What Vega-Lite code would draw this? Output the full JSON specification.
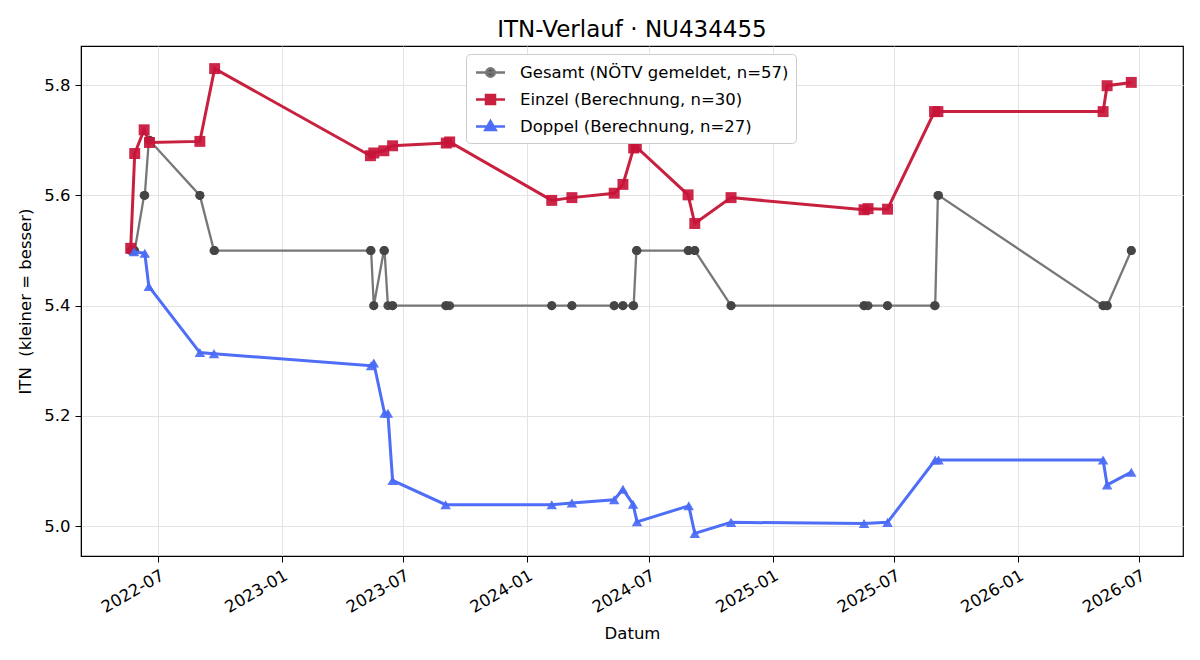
{
  "$schema": "https://vega.github.io/schema/vega-lite/v6.json",
  "width": 1102,
  "height": 510,
  "autosize": {"type": "none"},
  "padding": {"left": 81, "top": 46, "right": 17, "bottom": 104},
  "background": "white",
  "title": {"text": "ITN-Verlauf · NU434455", "fontSize": 23, "font": "DejaVu Sans", "fontWeight": "normal", "color": "black", "anchor": "middle", "frame": "group", "baseline": "alphabetic", "offset": -14},
  "config": {
    "font": "DejaVu Sans",
    "view": {"stroke": "black", "strokeWidth": 1.2},
    "axis": {"labelFont": "DejaVu Sans", "labelFontSize": 16.5, "labelColor": "black", "titleFont": "DejaVu Sans", "titleFontSize": 16.5, "titleFontWeight": "normal", "titleColor": "black", "tickColor": "black", "tickSize": 6, "domainColor": "black", "gridColor": "#e3e3e3", "gridWidth": 1, "labelPadding": 5}
  },
  "data": {"values": [
    {"d": "2022-05-21", "v": 5.5, "s": "G"},
    {"d": "2022-05-26", "v": 5.5, "s": "G"},
    {"d": "2022-05-27", "v": 5.5, "s": "G"},
    {"d": "2022-06-10", "v": 5.6, "s": "G"},
    {"d": "2022-06-11", "v": 5.6, "s": "G"},
    {"d": "2022-06-17", "v": 5.7, "s": "G"},
    {"d": "2022-06-18", "v": 5.7, "s": "G"},
    {"d": "2022-09-01", "v": 5.6, "s": "G"},
    {"d": "2022-09-01", "v": 5.6, "s": "G"},
    {"d": "2022-09-22", "v": 5.5, "s": "G"},
    {"d": "2022-09-23", "v": 5.5, "s": "G"},
    {"d": "2023-05-13", "v": 5.5, "s": "G"},
    {"d": "2023-05-14", "v": 5.5, "s": "G"},
    {"d": "2023-05-18", "v": 5.4, "s": "G"},
    {"d": "2023-05-18", "v": 5.4, "s": "G"},
    {"d": "2023-06-02", "v": 5.5, "s": "G"},
    {"d": "2023-06-03", "v": 5.5, "s": "G"},
    {"d": "2023-06-08", "v": 5.4, "s": "G"},
    {"d": "2023-06-15", "v": 5.4, "s": "G"},
    {"d": "2023-06-15", "v": 5.4, "s": "G"},
    {"d": "2023-09-02", "v": 5.4, "s": "G"},
    {"d": "2023-09-03", "v": 5.4, "s": "G"},
    {"d": "2023-09-08", "v": 5.4, "s": "G"},
    {"d": "2024-02-07", "v": 5.4, "s": "G"},
    {"d": "2024-02-07", "v": 5.4, "s": "G"},
    {"d": "2024-03-08", "v": 5.4, "s": "G"},
    {"d": "2024-03-08", "v": 5.4, "s": "G"},
    {"d": "2024-05-10", "v": 5.4, "s": "G"},
    {"d": "2024-05-10", "v": 5.4, "s": "G"},
    {"d": "2024-05-23", "v": 5.4, "s": "G"},
    {"d": "2024-05-23", "v": 5.4, "s": "G"},
    {"d": "2024-06-07", "v": 5.4, "s": "G"},
    {"d": "2024-06-08", "v": 5.4, "s": "G"},
    {"d": "2024-06-12", "v": 5.5, "s": "G"},
    {"d": "2024-06-13", "v": 5.5, "s": "G"},
    {"d": "2024-08-28", "v": 5.5, "s": "G"},
    {"d": "2024-08-29", "v": 5.5, "s": "G"},
    {"d": "2024-09-07", "v": 5.5, "s": "G"},
    {"d": "2024-09-07", "v": 5.5, "s": "G"},
    {"d": "2024-10-31", "v": 5.4, "s": "G"},
    {"d": "2024-10-31", "v": 5.4, "s": "G"},
    {"d": "2025-05-17", "v": 5.4, "s": "G"},
    {"d": "2025-05-17", "v": 5.4, "s": "G"},
    {"d": "2025-05-23", "v": 5.4, "s": "G"},
    {"d": "2025-06-21", "v": 5.4, "s": "G"},
    {"d": "2025-06-21", "v": 5.4, "s": "G"},
    {"d": "2025-08-30", "v": 5.4, "s": "G"},
    {"d": "2025-08-31", "v": 5.4, "s": "G"},
    {"d": "2025-09-04", "v": 5.6, "s": "G"},
    {"d": "2025-09-05", "v": 5.6, "s": "G"},
    {"d": "2026-05-08", "v": 5.4, "s": "G"},
    {"d": "2026-05-08", "v": 5.4, "s": "G"},
    {"d": "2026-05-14", "v": 5.4, "s": "G"},
    {"d": "2026-05-14", "v": 5.4, "s": "G"},
    {"d": "2026-06-19", "v": 5.5, "s": "G"},
    {"d": "2026-06-19", "v": 5.5, "s": "G"},
    {"d": "2022-05-21", "v": 5.504, "s": "E"},
    {"d": "2022-05-27", "v": 5.676, "s": "E"},
    {"d": "2022-06-10", "v": 5.719, "s": "E"},
    {"d": "2022-06-18", "v": 5.696, "s": "E"},
    {"d": "2022-09-01", "v": 5.698, "s": "E"},
    {"d": "2022-09-23", "v": 5.83, "s": "E"},
    {"d": "2023-05-13", "v": 5.672, "s": "E"},
    {"d": "2023-05-18", "v": 5.677, "s": "E"},
    {"d": "2023-06-02", "v": 5.681, "s": "E"},
    {"d": "2023-06-15", "v": 5.69, "s": "E"},
    {"d": "2023-09-03", "v": 5.695, "s": "E"},
    {"d": "2023-09-08", "v": 5.697, "s": "E"},
    {"d": "2024-02-07", "v": 5.591, "s": "E"},
    {"d": "2024-03-08", "v": 5.596, "s": "E"},
    {"d": "2024-05-10", "v": 5.604, "s": "E"},
    {"d": "2024-05-23", "v": 5.62, "s": "E"},
    {"d": "2024-06-08", "v": 5.686, "s": "E"},
    {"d": "2024-06-12", "v": 5.688, "s": "E"},
    {"d": "2024-08-28", "v": 5.601, "s": "E"},
    {"d": "2024-09-07", "v": 5.549, "s": "E"},
    {"d": "2024-10-31", "v": 5.596, "s": "E"},
    {"d": "2025-05-17", "v": 5.574, "s": "E"},
    {"d": "2025-05-23", "v": 5.576, "s": "E"},
    {"d": "2025-06-21", "v": 5.575, "s": "E"},
    {"d": "2025-08-30", "v": 5.752, "s": "E"},
    {"d": "2025-09-04", "v": 5.752, "s": "E"},
    {"d": "2026-05-08", "v": 5.752, "s": "E"},
    {"d": "2026-05-14", "v": 5.799, "s": "E"},
    {"d": "2026-06-19", "v": 5.805, "s": "E"},
    {"d": "2022-05-26", "v": 5.498, "s": "D"},
    {"d": "2022-06-11", "v": 5.495, "s": "D"},
    {"d": "2022-06-17", "v": 5.435, "s": "D"},
    {"d": "2022-09-01", "v": 5.315, "s": "D"},
    {"d": "2022-09-22", "v": 5.313, "s": "D"},
    {"d": "2023-05-14", "v": 5.291, "s": "D"},
    {"d": "2023-05-18", "v": 5.296, "s": "D"},
    {"d": "2023-06-03", "v": 5.205, "s": "D"},
    {"d": "2023-06-08", "v": 5.205, "s": "D"},
    {"d": "2023-06-15", "v": 5.083, "s": "D"},
    {"d": "2023-09-02", "v": 5.039, "s": "D"},
    {"d": "2024-02-07", "v": 5.039, "s": "D"},
    {"d": "2024-03-08", "v": 5.042, "s": "D"},
    {"d": "2024-05-10", "v": 5.048, "s": "D"},
    {"d": "2024-05-23", "v": 5.067, "s": "D"},
    {"d": "2024-06-07", "v": 5.04, "s": "D"},
    {"d": "2024-06-13", "v": 5.008, "s": "D"},
    {"d": "2024-08-29", "v": 5.037, "s": "D"},
    {"d": "2024-09-07", "v": 4.987, "s": "D"},
    {"d": "2024-10-31", "v": 5.007, "s": "D"},
    {"d": "2025-05-17", "v": 5.005, "s": "D"},
    {"d": "2025-06-21", "v": 5.007, "s": "D"},
    {"d": "2025-08-31", "v": 5.12, "s": "D"},
    {"d": "2025-09-05", "v": 5.12, "s": "D"},
    {"d": "2026-05-08", "v": 5.12, "s": "D"},
    {"d": "2026-05-14", "v": 5.075, "s": "D"},
    {"d": "2026-06-19", "v": 5.098, "s": "D"}
  ]},
  "encoding": {
    "x": {
      "field": "d", "type": "temporal",
      "scale": {"type": "utc", "domain": [{"year": 2022, "month": 3, "date": 8, "utc": true}, {"year": 2026, "month": 9, "date": 4, "utc": true}]},
      "axis": {
        "title": "Datum", "format": "%Y-%m", "labelAngle": -30, "labelAlign": "right", "labelBaseline": "top", "labelFlush": false, "labelOverlap": false,
        "titleX": 551, "titleY": 77, "titleBaseline": "middle", "titleAlign": "center",
        "values": [
          {"year": 2022, "month": 7, "date": 1, "utc": true},
          {"year": 2023, "month": 1, "date": 1, "utc": true},
          {"year": 2023, "month": 7, "date": 1, "utc": true},
          {"year": 2024, "month": 1, "date": 1, "utc": true},
          {"year": 2024, "month": 7, "date": 1, "utc": true},
          {"year": 2025, "month": 1, "date": 1, "utc": true},
          {"year": 2025, "month": 7, "date": 1, "utc": true},
          {"year": 2026, "month": 1, "date": 1, "utc": true},
          {"year": 2026, "month": 7, "date": 1, "utc": true}
        ]
      }
    },
    "y": {
      "field": "v", "type": "quantitative",
      "scale": {"domain": [4.946, 5.871], "nice": false, "zero": false},
      "axis": {"title": "ITN\u00a0\u00a0(kleiner = besser)", "values": [5.0, 5.2, 5.4, 5.6, 5.8], "format": ".1f", "titleX": -56, "titleY": 255, "titleAngle": -90, "titleBaseline": "middle", "titleAlign": "center"}
    }
  },
  "layer": [
    {
      "transform": [{"filter": "datum.s === 'G'"}],
      "mark": {"type": "line", "strokeWidth": 2.3},
      "encoding": {
        "color": {
          "field": "s", "type": "nominal",
          "scale": {"domain": ["G", "E", "D"], "range": ["#777777", "#c8203f", "#4f6ef7"]},
          "legend": {
            "orient": "none", "legendX": 385, "legendY": 8, "title": null, "direction": "vertical",
            "labelExpr": "datum.value === 'G' ? 'Gesamt (NÖTV gemeldet, n=57)' : datum.value === 'E' ? 'Einzel (Berechnung, n=30)' : 'Doppel (Berechnung, n=27)'",
            "labelFont": "DejaVu Sans", "labelFontSize": 16.5, "labelColor": "black", "labelLimit": 500,
            "fillColor": "white", "strokeColor": "#cccccc", "cornerRadius": 4, "padding": 7,
            "symbolSize": 400, "symbolOffset": 6, "labelOffset": 18, "rowPadding": 6, "symbolStrokeWidth": 2.5,
            "encode": {
              "symbols": {
                "update": {
                  "shape": {"signal": "datum.value === 'G' ? 'M-1.45,0L1.45,0M0.42,0C0.42,0.23,0.23,0.42,0,0.42C-0.23,0.42,-0.42,0.23,-0.42,0C-0.42,-0.23,-0.23,-0.42,0,-0.42C0.23,-0.42,0.42,-0.23,0.42,0Z' : datum.value === 'E' ? 'M-1.45,0L1.45,0M-0.45,-0.45L0.45,-0.45L0.45,0.45L-0.45,0.45Z' : 'M-1.45,0L1.45,0M0,-0.55L0.52,0.36L-0.52,0.36Z'"},
                  "fill": {"signal": "datum.value === 'G' ? '#555555' : datum.value === 'E' ? '#c8203f' : '#4f6ef7'"},
                  "stroke": {"signal": "datum.value === 'G' ? '#777777' : datum.value === 'E' ? '#c8203f' : '#4f6ef7'"},
                  "strokeWidth": {"value": 2.5},
                  "opacity": {"value": 1}
                }
              }
            }
          }
        }
      }
    },
    {
      "transform": [{"filter": "datum.s === 'G'"}],
      "mark": {"type": "point", "shape": "circle", "filled": true, "size": 80, "color": "#444444", "opacity": 0.95}
    },
    {
      "transform": [{"filter": "datum.s === 'E'"}],
      "mark": {"type": "line", "strokeWidth": 3, "color": "#c8203f"}
    },
    {
      "transform": [{"filter": "datum.s === 'E'"}],
      "mark": {"type": "point", "shape": "square", "filled": true, "size": 120, "color": "#c8143a", "opacity": 0.92}
    },
    {
      "transform": [{"filter": "datum.s === 'D'"}],
      "mark": {"type": "line", "strokeWidth": 3, "color": "#4f6ef7"}
    },
    {
      "transform": [{"filter": "datum.s === 'D'"}],
      "mark": {"type": "point", "shape": "triangle-up", "filled": true, "size": 110, "color": "#4a6af5", "opacity": 0.92}
    }
  ]
}
